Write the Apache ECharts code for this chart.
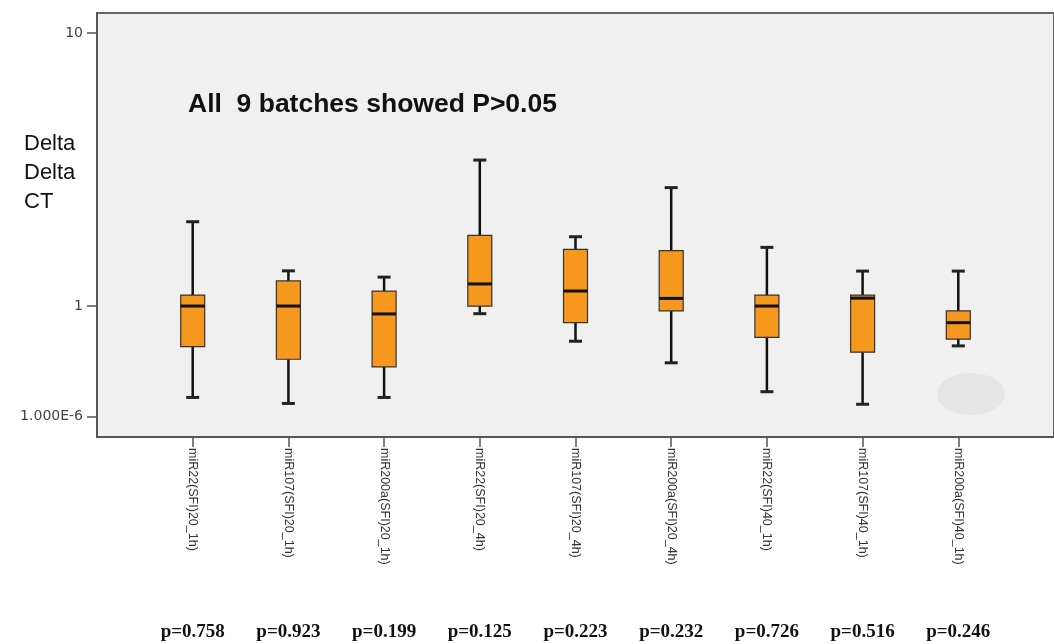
<!DOCTYPE html>
<html>
<head>
<meta charset="utf-8">
<script src="https://cdn.jsdelivr.net/npm/echarts@6/dist/echarts.min.js"></script>
<style>html,body{margin:0;padding:0;background:#fff;}#chart{width:1054px;height:644px;}</style>
</head>
<body>
<div id="chart"></div>
<script>
// Categories (batches)
const categories = [
  'miR22(SFI)20_1h)', 'miR107(SFI)20_1h)', 'miR200a(SFI)20_1h)',
  'miR22(SFI)20_4h)', 'miR107(SFI)20_4h)', 'miR200a(SFI)20_4h)',
  'miR22(SFI)40_1h)', 'miR107(SFI)40_1h)', 'miR200a(SFI)40_1h)'
];
// p values shown under each batch
const pValues = ['p=0.758','p=0.923','p=0.199','p=0.125','p=0.223','p=0.232','p=0.726','p=0.516','p=0.246'];
// Box statistics in axis (log10-like) units: low whisker, Q1, median, Q3, high whisker
const whiskerLow  = [-0.335, -0.357, -0.335, -0.028, -0.129, -0.208, -0.314, -0.360, -0.146];
const q1          = [-0.149, -0.195, -0.223,  0.000, -0.061, -0.018, -0.115, -0.169, -0.121];
const median      = [ 0.000,  0.000, -0.029,  0.081,  0.055,  0.028,  0.000,  0.029, -0.061];
const q3          = [ 0.040,  0.092,  0.055,  0.259,  0.208,  0.203,  0.040,  0.040, -0.018];
const whiskerHigh = [ 0.309,  0.129,  0.106,  0.535,  0.254,  0.434,  0.215,  0.128,  0.128];
// Y tick positions (axis units) and their labels
const yTickValues = [1, 0, -0.406];
const yTickLabels = ['10', '1', '1.000E-6'];

const catPos = categories.map((c, i) => i + 1);
const boxData = categories.map((c, i) => [i + 1, whiskerLow[i], q1[i], median[i], q3[i], whiskerHigh[i]]);

const chart = echarts.init(document.getElementById('chart'));
const BOX_W = 24, CAP_W = 13;

function renderBox(params, api) {
  const x = api.value(0);
  const pLow = api.coord([x, api.value(1)]);
  const pQ1 = api.coord([x, api.value(2)]);
  const pMed = api.coord([x, api.value(3)]);
  const pQ3 = api.coord([x, api.value(4)]);
  const pHigh = api.coord([x, api.value(5)]);
  const cx = pMed[0];
  const lineStyle = { stroke: '#111', lineWidth: 2.5 };
  return {
    type: 'group',
    children: [
      { type: 'line', shape: { x1: cx, y1: pHigh[1], x2: cx, y2: pQ3[1] }, style: lineStyle },
      { type: 'line', shape: { x1: cx, y1: pQ1[1], x2: cx, y2: pLow[1] }, style: lineStyle },
      { type: 'line', shape: { x1: cx - CAP_W / 2, y1: pHigh[1], x2: cx + CAP_W / 2, y2: pHigh[1] }, style: { stroke: '#222', lineWidth: 3 } },
      { type: 'line', shape: { x1: cx - CAP_W / 2, y1: pLow[1], x2: cx + CAP_W / 2, y2: pLow[1] }, style: { stroke: '#222', lineWidth: 3 } },
      { type: 'rect', shape: { x: cx - BOX_W / 2, y: pQ3[1], width: BOX_W, height: pQ1[1] - pQ3[1] },
        style: { fill: '#f7981e', stroke: '#333', lineWidth: 1.2 } },
      { type: 'line', shape: { x1: cx - BOX_W / 2, y1: pMed[1], x2: cx + BOX_W / 2, y2: pMed[1] }, style: { stroke: '#111', lineWidth: 3 } }
    ]
  };
}

chart.setOption({
  animation: false,
  backgroundColor: '#ffffff',
  title: [
    { text: 'All  9 batches showed P>0.05', left: 183, top: 86,
      textStyle: { fontFamily: 'Liberation Sans, Arial', fontWeight: 'bold', fontSize: 26.5, color: '#111' } },
    { text: 'Delta\nDelta\nCT', left: 19, top: 124,
      textStyle: { fontFamily: 'Liberation Sans, Arial', fontWeight: 'normal', fontSize: 22, lineHeight: 29, color: '#111' } }
  ],
  graphic: [
    { type: 'ellipse', shape: { cx: 971, cy: 394, rx: 34, ry: 21 }, style: { fill: '#e6e6e6' }, z: 1 }
  ],
  grid: { left: 97, top: 13, right: -12, bottom: 207, show: true, backgroundColor: '#f0f0f0', borderColor: '#666', borderWidth: 2 },
  xAxis: [
    {
      type: 'value', min: 0, max: 10, position: 'bottom',
      axisLine: { show: true, onZero: false, lineStyle: { color: '#555', width: 2 } },
      axisTick: { show: true, customValues: catPos, length: 10, lineStyle: { color: '#555', width: 1.5 } },
      axisLabel: { customValues: catPos, rotate: -90, margin: 11, fontSize: 12.5, color: '#333',
        fontFamily: 'Liberation Sans, Arial', formatter: v => categories[Math.round(v) - 1] || '' },
      splitLine: { show: false }
    },
    {
      type: 'value', min: 0, max: 10, position: 'bottom', offset: 186,
      axisLine: { show: false, onZero: false }, axisTick: { show: false },
      axisLabel: { customValues: catPos, margin: 0, fontSize: 19, color: '#111', fontWeight: 'bold',
        fontFamily: 'Liberation Serif, Times New Roman', formatter: v => pValues[Math.round(v) - 1] || '' },
      splitLine: { show: false }
    }
  ],
  yAxis: {
    type: 'value', min: -0.48, max: 1.074,
    axisLine: { show: true, lineStyle: { color: '#555', width: 2 } },
    axisTick: { show: true, customValues: yTickValues, length: 10, lineStyle: { color: '#555', width: 1.5 } },
    axisLabel: { customValues: yTickValues, margin: 14, fontSize: 14, color: '#444', fontFamily: 'DejaVu Sans, Arial',
      formatter: v => { const i = yTickValues.findIndex(t => Math.abs(t - v) < 1e-6); return i >= 0 ? yTickLabels[i] : ''; } },
    splitLine: { show: false }
  },
  series: [{
    type: 'custom', xAxisIndex: 0, renderItem: renderBox, data: boxData, z: 3,
    encode: { x: 0, y: [1, 2, 3, 4, 5] }
  }]
});
</script>
</body>
</html>
